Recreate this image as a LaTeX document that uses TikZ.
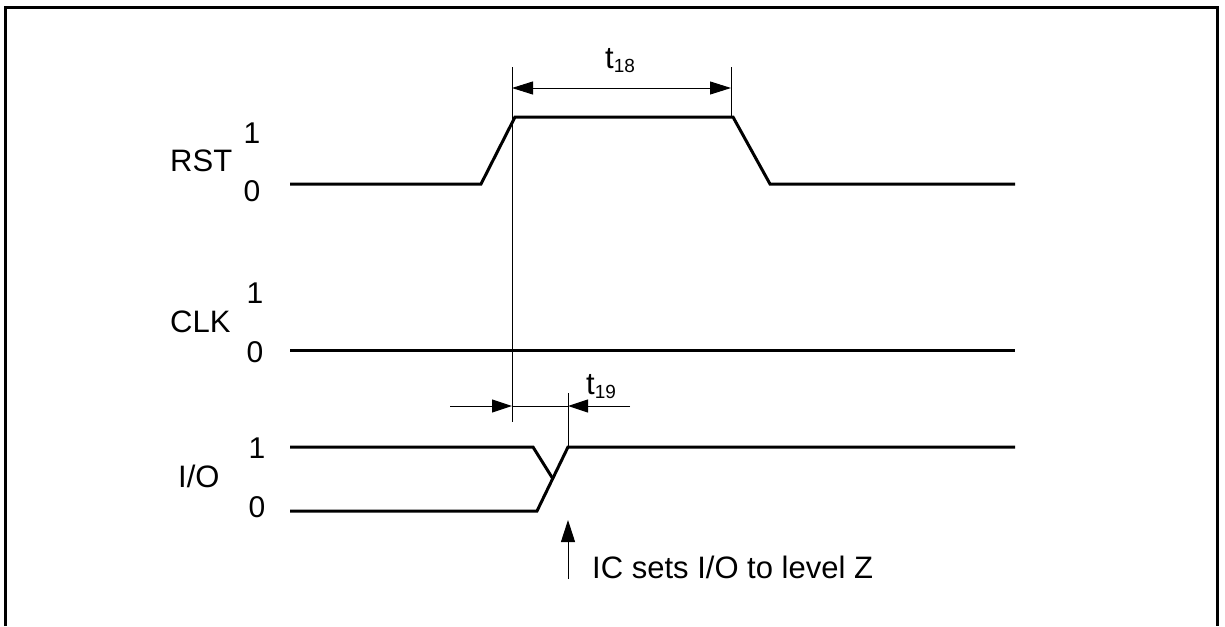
\documentclass[tikz,border=0pt]{standalone}
\usepackage{fontspec}
\setmainfont{Liberation Sans}
\usetikzlibrary{arrows.meta}
\begin{document}
\begin{tikzpicture}[x=1pt,y=-1pt,
  sig/.style={line width=3pt,line join=miter},
  thin/.style={line width=1pt},
  dim/.style={line width=1pt,-{Triangle[length=20pt,width=13pt]}},
  lbl/.style={inner sep=0pt,anchor=base west,font=\fontsize{31}{36}\selectfont},
  lvl/.style={inner sep=0pt,anchor=base,font=\fontsize{30}{36}\selectfont}]
\useasboundingbox (0,0) rectangle (1225,626);
% frame
\draw[line width=3pt] (5,626) -- (5,8) -- (1217,8) -- (1217,626);
% RST
\coordinate (r0) at (290,184); \coordinate (r1) at (481,184);
\coordinate (r2) at (515,117); \coordinate (r3) at (733,117);
\coordinate (r4) at (770,184); \coordinate (r5) at (1015,184);
\draw[sig] (r0) -- (r1) -- (r2) -- (r3) -- (r4) -- (r5);
% CLK
\coordinate (c0) at (290,350); \coordinate (c1) at (1015,350);
\draw[sig] (c0) -- (c1);
% I/O
\coordinate (h0) at (290,447); \coordinate (h1) at (533,447);
\coordinate (x0) at (553,479);
\coordinate (l0) at (290,511); \coordinate (l1) at (537,511);
\coordinate (h2) at (568,447); \coordinate (h3) at (1015,447);
\draw[sig] (h0) -- (h1) -- (x0);
\draw[sig] (l0) -- (l1) -- (h2) -- (h3);
% t18
\coordinate (v1t) at (512,67); \coordinate (v1b) at (512,422);
\coordinate (v2t) at (731,67); \coordinate (v2b) at (731,117);
\draw[thin] (v1t) -- (v1b);
\draw[thin] (v2t) -- (v2b);
\coordinate (a1) at (512,88); \coordinate (a2) at (731,88);
\draw[thin,{Triangle[length=21pt,width=13pt]}-{Triangle[length=21pt,width=13pt]}] (a1) -- (a2);
\node[lbl] (t18) at (605,68) {t\raisebox{-4pt}{\fontsize{19}{20}\selectfont 18}};
% t19
\coordinate (b0) at (450,406); \coordinate (b1) at (512,406);
\coordinate (b2) at (568,406); \coordinate (b3) at (630,406);
\coordinate (v3t) at (568,393);
\draw[thin] (v3t) -- (h2);
\draw[dim] (b0) -- (b1);
\draw[dim] (b3) -- (b2);
\draw[thin] (b1) -- (b2);
\node[lbl] (t19) at (586,394) {t\raisebox{-4pt}{\fontsize{19}{20}\selectfont 19}};
% IC arrow
\coordinate (ic0) at (568,579); \coordinate (ic1) at (568,520);
\draw[thin,-{Triangle[length=22pt,width=14pt]}] (ic0) -- (ic1);
\node[lbl] (ic) at (592,578) {IC sets I/O to level Z};
% labels
\node[lbl] (rst) at (170,171) {RST};
\node[lvl] (rst1) at (252,143) {1};
\node[lvl] (rst0) at (252,201) {0};
\node[lbl] (clk) at (170,332) {CLK};
\node[lvl] (clk1) at (255,303) {1};
\node[lvl] (clk0) at (255,362) {0};
\node[lbl] (io) at (178,487) {I/O};
\node[lvl] (io1) at (257,458) {1};
\node[lvl] (io0) at (257,517) {0};
\end{tikzpicture}
\end{document}
